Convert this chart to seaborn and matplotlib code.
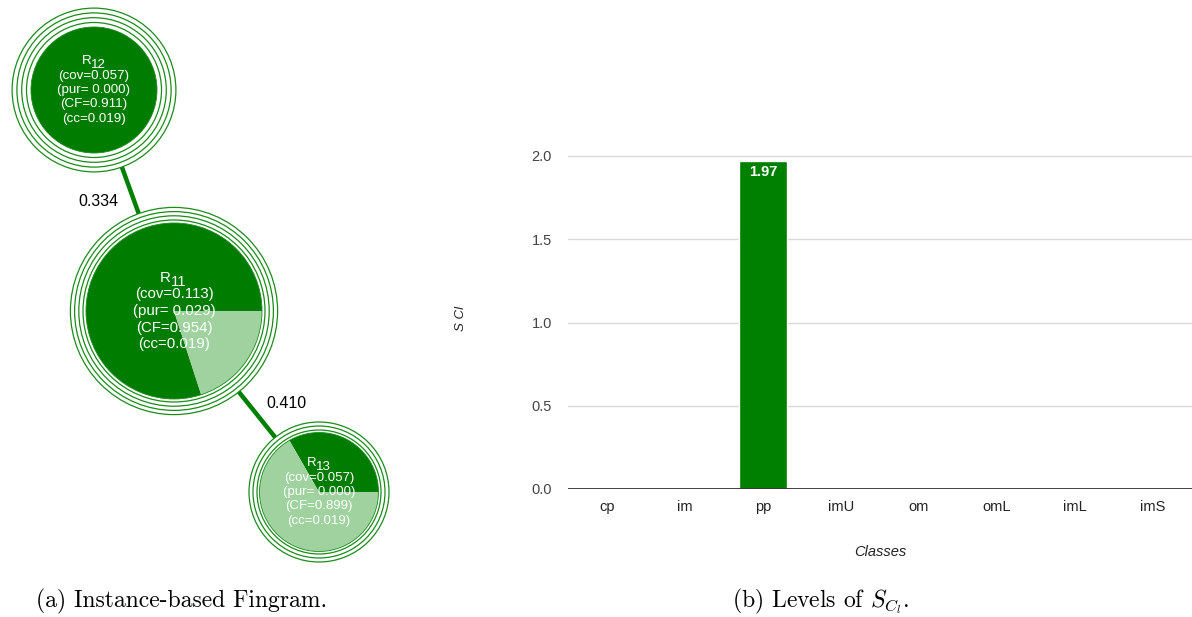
import matplotlib
matplotlib.use('Agg')
import matplotlib.pyplot as plt
from matplotlib.patches import Circle, Wedge
import numpy as np
import pandas as pd
import seaborn as sns

# ---------------- data ----------------
classes = ['cp', 'im', 'pp', 'imU', 'om', 'omL', 'imL', 'imS']
scl_values = [0.0, 0.0, 1.97, 0.0, 0.0, 0.0, 0.0, 0.0]
y_ticks = [0.0, 0.5, 1.0, 1.5, 2.0]

rule_ids = ['12', '11', '13']
rule_cov = [0.057, 0.113, 0.057]
rule_pur = [0.000, 0.029, 0.000]
rule_cf = [0.911, 0.954, 0.899]
rule_cc = [0.019, 0.019, 0.019]
rule_dark_share = [1.0, 0.80, 0.333]
edge_pairs = [(0, 1), (1, 2)]
edge_weights = [0.334, 0.410]

# ---------------- layout / style (pixels) ----------------
W, H, DPI = 1192, 617, 100
node_centers_px = [(94, 90), (174, 311), (319, 492)]
node_fill_r = [63, 88, 59.5]
node_rings = [4, 4, 3]
node_ring_gap = [4.5, 3.0, 2.5]
node_ring_step = [4.8, 4.2, 4.0]
node_font = [9.6, 10.8, 9.5]
node_line_px = [14.5, 16.7, 14.3]
edge_label_px = [(98, 201), (286, 404)]

DARK = '#007c00'
LIGHT = '#9fd29f'
RING = '#1a8c1a'
BAR = '#008000'

sns.set_theme(style='white')
plt.rcParams['font.family'] = ['Liberation Sans', 'DejaVu Sans']
plt.rcParams['mathtext.fontset'] = 'cm'

fig = plt.figure(figsize=(W / DPI, H / DPI), dpi=DPI)
fig.patch.set_facecolor('white')

# ---------------- left panel: fingram ----------------
axL = fig.add_axes([0, 0, 420 / W, 1])
axL.set_xlim(0, 420)
axL.set_ylim(0, H)
axL.axis('off')


def P(x, y):
    return (x, H - y)


def outer_r(i):
    return node_fill_r[i] + node_ring_gap[i] + (node_rings[i] - 1) * node_ring_step[i]


for (a, b), w, lab in zip(edge_pairs, edge_weights, edge_label_px):
    ca = np.array(P(*node_centers_px[a]), float)
    cb = np.array(P(*node_centers_px[b]), float)
    u = (cb - ca) / np.linalg.norm(cb - ca)
    p0 = ca + u * outer_r(a)
    p1 = cb - u * outer_r(b)
    axL.plot([p0[0], p1[0]], [p0[1], p1[1]], color=BAR, lw=3.2,
             solid_capstyle='butt', zorder=1)
    axL.text(*P(*lab), f'{w:.3f}', ha='center', va='center',
             fontsize=11.5, color='black', zorder=5)

for i, rid in enumerate(rule_ids):
    c = P(*node_centers_px[i])
    r = node_fill_r[i]
    d = rule_dark_share[i]
    if d >= 1.0:
        axL.add_patch(Circle(c, r, color=DARK, lw=0, zorder=2))
    else:
        axL.add_patch(Wedge(c, r, 0, d * 360, color=DARK, lw=0, zorder=2))
        axL.add_patch(Wedge(c, r, d * 360, 360, color=LIGHT, lw=0, zorder=2))
    axL.add_patch(Circle(c, r, fill=False, ec=RING, lw=0.6, zorder=3))
    for k in range(node_rings[i]):
        axL.add_patch(Circle(c, r + node_ring_gap[i] + k * node_ring_step[i],
                             fill=False, ec=RING, lw=0.9, zorder=3))
    fs = node_font[i]
    sp = node_line_px[i]
    cx, cy = node_centers_px[i]
    em = fs * DPI / 72.0
    lines = [f'(cov={rule_cov[i]:.3f})', f'(pur= {rule_pur[i]:.3f})',
             f'(CF={rule_cf[i]:.3f})', f'(cc={rule_cc[i]:.3f})']
    ty = cy - 2 * sp
    total = 0.722 * em + 0.556 * em * len(rid)
    x0 = cx - total / 2
    axL.text(*P(x0, ty), 'R', ha='left', va='center', fontsize=fs,
             color='white', zorder=6)
    axL.text(*P(x0 + 0.722 * em, ty + 0.28 * em), rid, ha='left', va='center',
             fontsize=fs, color='white', zorder=6)
    for k, s in enumerate(lines):
        axL.text(*P(cx, cy + (k - 1) * sp), s, ha='center', va='center',
                 fontsize=fs, color='white', zorder=6)

# ---------------- right panel: bar chart ----------------
ymax = 2.05
axR = fig.add_axes([568 / W, 1 - 489 / H, 624 / W, 166.5 * ymax / H])
df = pd.DataFrame({'Classes': classes, 'SCl': scl_values})
sns.barplot(data=df, x='Classes', y='SCl', color=BAR, saturation=1,
            width=0.615, ax=axR)
axR.set_xlim(-0.5, len(classes) - 0.5)
axR.set_ylim(0, ymax)
axR.set_yticks(y_ticks)
axR.set_yticklabels([f'{t:.1f}' for t in y_ticks])
axR.grid(axis='y', color='#d9d9d9', lw=1)
axR.grid(axis='x', visible=False)
axR.set_axisbelow(True)
for s in axR.spines.values():
    s.set_visible(False)
axR.axhline(0, color='#333333', lw=1.3, zorder=3)
axR.tick_params(axis='y', length=0, pad=11.5, labelsize=10.5, labelcolor='#444444')
axR.tick_params(axis='x', length=0, pad=8, labelsize=10.5, labelcolor='#222222')
axR.set_xlabel('Classes', fontstyle='italic', fontsize=10.5, color='#222222',
               labelpad=22)
axR.set_ylabel('S Cl', fontstyle='italic', fontsize=9.5, color='#222222')
axR.yaxis.set_label_coords((467 - 568) / 624, 0.5)
for i, v in enumerate(scl_values):
    if v > 0:
        axR.annotate(f'{v:.2f}', (i, v), xytext=(0, -3),
                     textcoords='offset points', ha='center', va='top',
                     color='white', fontsize=10.5, fontweight='semibold')

# ---------------- captions ----------------
fig.text(182 / W, 1 - 601 / H, '(a) Instance-based Fingram.', family='cmr10',
         fontsize=17, ha='center', va='center', color='black')
fig.text(820 / W, 1 - 601 / H, r'(b) Levels of $S_{C_l}$.', family='cmr10',
         fontsize=17, ha='center', va='center', color='black')

fig.savefig('out.png', dpi=DPI, facecolor='white')
